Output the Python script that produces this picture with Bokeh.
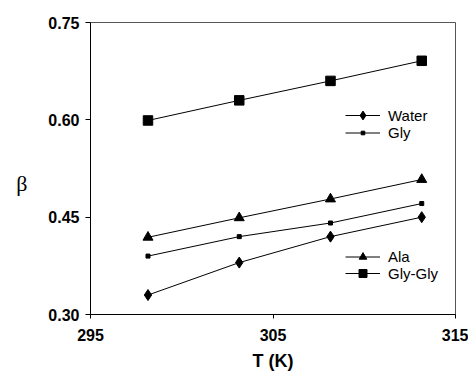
from bokeh.plotting import figure
from bokeh.models import Range1d, FixedTicker, Legend, LegendItem, PrintfTickFormatter
from bokeh.embed import file_html
from bokeh.resources import INLINE

# Data
T = [298.15, 303.15, 308.15, 313.15]
water = [0.330, 0.380, 0.420, 0.450]
gly = [0.390, 0.420, 0.441, 0.471]
ala = [0.419, 0.449, 0.478, 0.508]
glygly = [0.599, 0.630, 0.660, 0.691]
x_ticks = [295, 305, 315]
y_ticks = [0.30, 0.45, 0.60, 0.75]

p = figure(width=468, height=373, output_backend="svg", toolbar_location=None,
           x_range=Range1d(295, 315), y_range=Range1d(0.30, 0.75),
           min_border_left=90, min_border_right=13, min_border_top=22, min_border_bottom=59)
p.background_fill_color = "white"
p.border_fill_color = "white"
p.outline_line_color = "#555555"
p.outline_line_width = 1
p.xgrid.visible = False
p.ygrid.visible = False

FONT = "Liberation Sans"
for ax in (p.xaxis[0], p.yaxis[0]):
    ax.axis_line_color = "black"
    ax.major_tick_line_color = "black"
    ax.minor_tick_line_color = None
    ax.major_tick_in = 0
    ax.major_label_text_font = FONT
    ax.major_label_text_font_style = "bold"
    ax.major_label_text_font_size = "16px"
    ax.major_label_text_color = "black"

p.xaxis.ticker = FixedTicker(ticks=x_ticks)
p.yaxis.ticker = FixedTicker(ticks=y_ticks)
p.yaxis.formatter = PrintfTickFormatter(format="%.2f")
p.xaxis.major_tick_out = 4
p.yaxis.major_tick_out = 5
p.xaxis.major_label_standoff = 10
p.yaxis.major_label_standoff = 6

p.xaxis.axis_label = "T (K)"
p.xaxis.axis_label_text_font = FONT
p.xaxis.axis_label_text_font_style = "bold"
p.xaxis.axis_label_text_font_size = "18px"
p.xaxis.axis_label_standoff = 7
p.xaxis.axis_label_text_color = "black"

p.yaxis.axis_label = "\nβ"
p.yaxis.axis_label_text_font = "Liberation Serif"
p.yaxis.axis_label_text_font_style = "normal"
p.yaxis.axis_label_text_font_size = "22px"
p.yaxis.axis_label_orientation = "horizontal"
p.yaxis.axis_label_standoff = 18
p.yaxis.axis_label_text_color = "black"

series = [
    ("Water", water, "diamond", 11, 22, 188),
    ("Gly", gly, "square", 4, 9, 173),
    ("Ala", ala, "triangle", 10, 19, 48.5),
    ("Gly-Gly", glygly, "square", 9.5, 20, 31),
]

for name, ys, marker, size, gh, ly in series:
    ln = p.line(T, ys, line_color="black", line_width=1)
    sc = p.scatter(T, ys, marker=marker, size=size, fill_color="black", line_color="black")
    leg = Legend(items=[LegendItem(label=name, renderers=[ln, sc])],
                 location=(255, ly), glyph_width=35, glyph_height=gh,
                 label_height=16, label_standoff=8, padding=0, margin=0, spacing=0,
                 label_text_font=FONT, label_text_font_size="15px", label_text_color="black",
                 background_fill_alpha=0, border_line_color=None)
    p.add_layout(leg)

open("out.html", "w").write(file_html(p, INLINE))
